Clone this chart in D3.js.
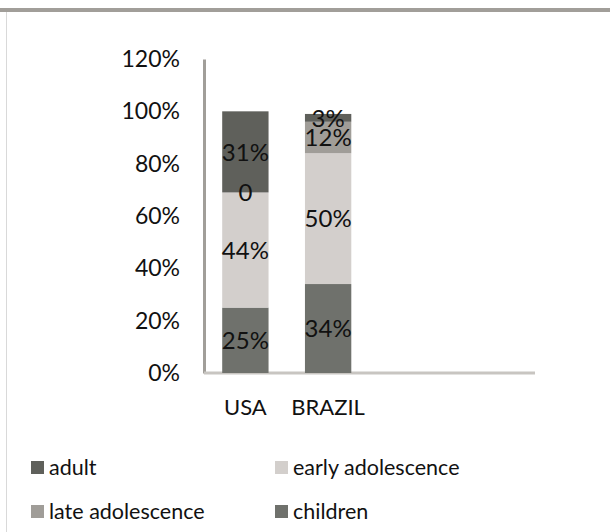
<!DOCTYPE html>
<html lang="en">
  <head>
    <meta charset="utf-8">
    <title>Age groups by country</title>
    <script src="https://d3js.org/d3.v7.min.js"></script>
    <style>
      body { margin: 0; background: #fff; }
      text { font-family: Lato, "Open Sans", sans-serif; fill: #111; }
    </style>
  </head>
  <body>
    <script type="text/javascript">

      var w = 610;
      var h = 532;

      // data
      var countries = ["USA", "BRAZIL"];
      var series = ["children", "early adolescence", "late adolescence", "adult"];
      var children = [25, 34];
      var earlyAdolescence = [44, 50];
      var lateAdolescence = [0, 12];
      var adult = [31, 3];
      var labels = {
        "children": ["25%", "34%"],
        "early adolescence": ["44%", "50%"],
        "late adolescence": ["0", "12%"],
        "adult": ["31%", "3%"]
      };
      var yTicks = [0, 20, 40, 60, 80, 100, 120];
      var legendOrder = ["adult", "early adolescence", "late adolescence", "children"];

      var colors = {
        "children": "#6f716c",
        "early adolescence": "#d3cfcc",
        "late adolescence": "#a09d98",
        "adult": "#5f605b"
      };

      var rows = countries.map(function(c, i) {
        return {country: c, "children": children[i], "early adolescence": earlyAdolescence[i],
                "late adolescence": lateAdolescence[i], "adult": adult[i]};
      });

      var stacked = d3.stack().keys(series)(rows);

      var svg = d3.select("body")
                  .append("svg")
                  .attr("width", w)
                  .attr("height", h);

      // frame
      svg.append("rect")
         .attr("x", 0).attr("y", 8)
         .attr("width", w).attr("height", 4)
         .attr("fill", "#a19e99");
      svg.append("line")
         .attr("x1", 6.5).attr("x2", 6.5)
         .attr("y1", 12).attr("y2", h)
         .attr("stroke", "#d9d9d9");

      var plotLeft = 204, plotRight = 535;
      var slot = (plotRight - plotLeft) / 4;

      var x = d3.scaleBand()
                .domain(countries)
                .range([plotLeft, plotLeft + slot * countries.length])
                .paddingInner(0.44)
                .paddingOuter(0.22);

      var y = d3.scaleLinear()
                .domain([0, 120])
                .range([373, 59]);

      // y axis
      var yAxis = d3.axisLeft(y)
                    .tickValues(yTicks)
                    .tickSize(0)
                    .tickPadding(24)
                    .tickFormat(function(d) { return d + "%"; });
      var gy = svg.append("g")
                  .attr("transform", "translate(" + plotLeft + ",0)")
                  .call(yAxis);
      gy.select(".domain").attr("stroke", "#a19e99").attr("stroke-width", 3);
      gy.selectAll("text").style("font-size", "23px").style("font-family", "Lato, sans-serif").attr("fill", "#111");

      // x axis
      svg.append("line")
         .attr("x1", plotLeft).attr("x2", plotRight)
         .attr("y1", y(0)).attr("y2", y(0))
         .attr("stroke", "#c8c5c1").attr("stroke-width", 3);

      svg.selectAll(".xlabel")
         .data(countries)
         .enter()
         .append("text")
         .attr("class", "xlabel")
         .attr("x", d => x(d) + x.bandwidth() / 2)
         .attr("y", 415)
         .attr("text-anchor", "middle")
         .style("font-size", "22px")
         .text(d => d);

      // bars
      var layers = svg.selectAll(".layer")
                      .data(stacked)
                      .enter()
                      .append("g")
                      .attr("class", "layer")
                      .attr("fill", d => colors[d.key]);

      layers.selectAll("rect")
            .data(d => d)
            .enter()
            .append("rect")
            .attr("x", d => x(d.data.country))
            .attr("y", d => y(d[1]))
            .attr("width", x.bandwidth())
            .attr("height", d => y(d[0]) - y(d[1]));

      // value labels
      stacked.forEach(function(layer) {
        svg.selectAll(".lbl-" + layer.index)
           .data(layer)
           .enter()
           .append("text")
           .attr("x", d => x(d.data.country) + x.bandwidth() / 2)
           .attr("y", d => y((d[0] + d[1]) / 2))
           .attr("dy", "0.36em")
           .attr("text-anchor", "middle")
           .style("font-size", "24px")
           .text((d, i) => labels[layer.key][i]);
      });

      // legend
      var legend = svg.selectAll(".legend")
                      .data(legendOrder)
                      .enter()
                      .append("g")
                      .attr("class", "legend")
                      .attr("transform", (d, i) => "translate(" + (i % 2 === 0 ? 31 : 275) + "," + (i < 2 ? 475 : 519) + ")");

      legend.append("rect")
            .attr("x", 0).attr("y", -14)
            .attr("width", 13).attr("height", 13)
            .attr("fill", d => colors[d]);

      legend.append("text")
            .attr("x", 18)
            .style("font-size", "21.5px")
            .text(d => d);

    </script>
  </body>
</html>
